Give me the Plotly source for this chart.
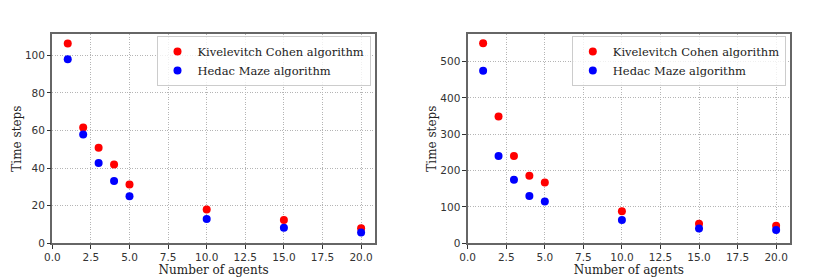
import plotly.graph_objects as go

agents = [1, 2, 3, 4, 5, 10, 15, 20]

kc_left = [106.2, 61.6, 50.8, 41.9, 31.3, 18.0, 12.4, 8.0]
hm_left = [97.9, 57.9, 42.7, 33.1, 25.0, 12.9, 8.3, 5.7]

kc_right = [550, 349, 240, 186, 167, 88, 54, 48.5]
hm_right = [475, 240, 175, 130, 115, 64, 41, 36.6]

series_names = ["Kivelevitch Cohen algorithm", "Hedac Maze algorithm"]
colors = ["#ff0000", "#0000ff"]

# the page has an 8px body margin; lay out in figure coordinates
OFF = 8
W, H = 830 - OFF, 277 - OFF
fig = go.Figure()

panels = [
    dict(kc=kc_left, hm=hm_left, xa="x", ya="y", leg="legend"),
    dict(kc=kc_right, hm=hm_right, xa="x2", ya="y2", leg="legend2"),
]
for p in panels:
    for name, vals, col in zip(series_names, [p["kc"], p["hm"]], colors):
        fig.add_trace(go.Scatter(
            x=agents, y=vals, mode="markers", name=name,
            marker=dict(color=col, size=8, line=dict(width=0)),
            xaxis=p["xa"], yaxis=p["ya"], legend=p["leg"],
        ))

tickfont = dict(family="DejaVu Sans", size=10.5, color="#333333")
titlefont = dict(family="DejaVu Serif", size=12, color="#222222")

common = dict(
    showline=True, mirror=True, linecolor="#666666", linewidth=1.5,
    ticks="outside", ticklen=3.5, tickcolor="#333333", tickwidth=1,
    showgrid=True, gridcolor="#b5b5b5", griddash="1px,1.5px", gridwidth=0.7,
    zeroline=False, tickfont=tickfont, automargin=False,
)

def xaxis(domain, anchor):
    return dict(
        domain=domain, anchor=anchor, range=[0, 20.9],
        tick0=0, dtick=2.5, tickformat=".1f",
        title=dict(text="Number of agents", font=titlefont, standoff=0),
        **common,
    )

def yaxis(domain, anchor, rng, dtick):
    return dict(
        domain=domain, anchor=anchor, range=rng, dtick=dtick, tick0=0,
        title=dict(text="Time steps", font=titlefont, standoff=1),
        **common,
    )

def fx(px):
    return (px - OFF) / W

def fy(py):
    return (H - (py - OFF)) / H

ydom = [fy(243.3), fy(34)]

legend_style = dict(
    bgcolor="rgba(255,255,255,0.8)", bordercolor="#cccccc", borderwidth=1,
    font=dict(family="DejaVu Serif", size=11.5, color="#222222"),
    xanchor="left", yanchor="top", tracegroupgap=0, itemwidth=30,
)

fig.update_layout(
    width=W, height=H,
    margin=dict(l=0, r=0, t=0, b=0, autoexpand=False),
    paper_bgcolor="white", plot_bgcolor="white",
    xaxis=xaxis([fx(52.3), fx(375)], "y"),
    yaxis=yaxis(ydom, "x", [0, 111.3], 20),
    xaxis2=xaxis([fx(467.7), fx(790)], "y2"),
    yaxis2=yaxis(ydom, "x2", [0, 575.75], 100),
    legend=dict(x=fx(156.5), y=fy(36), **legend_style),
    legend2=dict(x=fx(571.8), y=fy(36), **legend_style),
    showlegend=True,
)

fig.write_html("out.html")
